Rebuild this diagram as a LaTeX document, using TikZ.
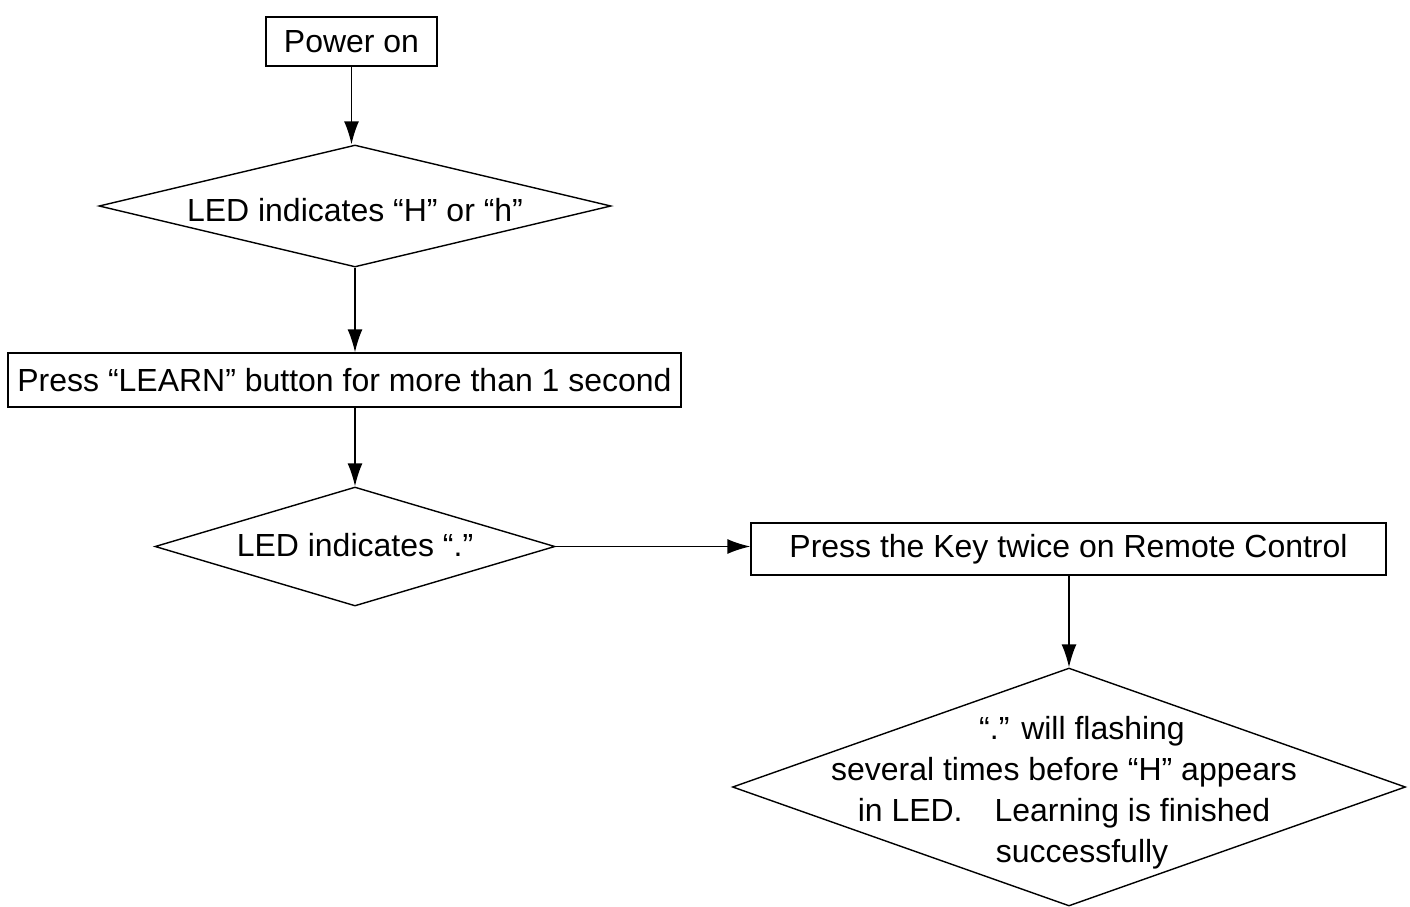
\documentclass[tikz,border=0pt]{standalone}
\usepackage{fontspec}
\setmainfont{Liberation Sans}
\usetikzlibrary{shapes.geometric,arrows.meta}

\begin{document}
\begin{tikzpicture}[
    font=\fontsize{18.2}{23.3}\selectfont,
    box/.style={rectangle, draw, line width=0.8pt, inner sep=0pt},
    decision/.style={diamond, draw, line width=0.8pt, inner sep=0pt},
    arrow/.style={-{Latex[length=0.46cm, width=0.3cm]}, line width=0.8pt}
]
\useasboundingbox (0,0) rectangle (28.2,-18.12);

% Start
\node[box, minimum width=3.42cm, minimum height=0.98cm] (power) at (7.03, -0.83) {Power on};

% First check
\node[decision, minimum width=10.24cm, minimum height=2.44cm,
      label={[yshift=-0.08cm]center:LED indicates “H” or “h”}] (ledh) at (7.1, -4.12) {};

% Learn button
\node[box, minimum width=13.46cm, minimum height=1.08cm] (learn) at (6.89, -7.6) {Press “LEARN” button for more than 1 second};

% Second check
\node[decision, minimum width=8.0cm, minimum height=2.38cm,
      label={[yshift=0.03cm]center:LED indicates “.”}] (leddot) at (7.1, -10.93) {};

% Remote control
\node[box, minimum width=12.7cm, minimum height=1.04cm] (remote) at (21.37, -10.98) {Press the Key twice on Remote Control};

% Finished
\node[decision, minimum width=13.46cm, minimum height=4.76cm,
      label={[align=center, yshift=-0.12cm, xshift=-0.1cm]center:\hspace*{0.72cm}“.” will flashing\\several times before “H” appears\\in LED.\quad Learning is finished\\\hspace*{0.72cm}successfully}] (done) at (21.38, -15.74) {};

% Arrows
\draw[arrow] (power) -- (power |- ledh.north);
\draw[arrow] (ledh.south) -- (ledh.south |- learn.north);
\draw[arrow] (leddot.north |- learn.south) -- (leddot.north);
\draw[arrow] (leddot.east) -- (leddot.east -| remote.west);
\draw[arrow] (done.north |- remote.south) -- (done.north);

\end{tikzpicture}
\end{document}
